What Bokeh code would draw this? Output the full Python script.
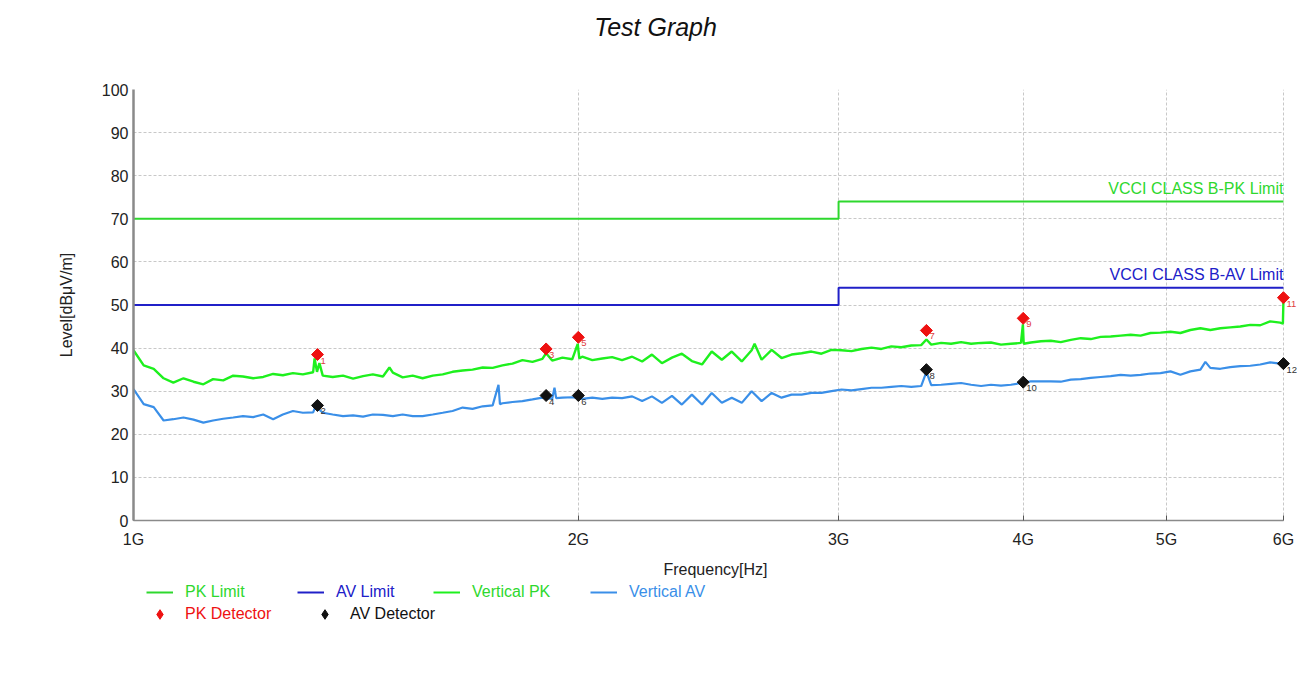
import numpy as np
from bokeh.plotting import figure
from bokeh.layouts import column
from bokeh.models import (FixedTicker, Label, Legend, LegendItem, ColumnDataSource, Range1d)
from bokeh.embed import file_html
from bokeh.resources import INLINE
from bokeh.core.properties import value

FONT = "Liberation Sans"

# ---------------- data ----------------
pk_freq = [1000, 1016, 1032, 1048, 1064, 1081, 1098, 1115, 1132, 1150, 1168, 1186, 1205, 1224, 1243, 1262,
           1282, 1302, 1323, 1326, 1331, 1336, 1343, 1364, 1386, 1408, 1430, 1452, 1475, 1490, 1498, 1521,
           1545, 1569, 1594, 1619, 1644, 1670, 1696, 1723, 1750, 1777, 1805, 1833, 1862, 1891, 1902, 1920,
           1951, 1981, 1998, 2003, 2012, 2044, 2076, 2108, 2141, 2175, 2209, 2243, 2278, 2314, 2350, 2387,
           2425, 2462, 2501, 2540, 2580, 2620, 2632, 2661, 2703, 2745, 2788, 2832, 2876, 2921, 2967, 3014,
           3061, 3109, 3158, 3207, 3257, 3308, 3360, 3412, 3440, 3466, 3520, 3575, 3631, 3688, 3746, 3804,
           3864, 3924, 3986, 3998, 4003, 4048, 4112, 4176, 4241, 4308, 4375, 4444, 4513, 4584, 4656, 4729,
           4803, 4878, 4954, 5032, 5110, 5190, 5272, 5354, 5438, 5523, 5610, 5698, 5787, 5877, 5969, 5995,
           6000]
pk_level = [39.5, 36.0, 35.2, 33.0, 32.0, 33.0, 32.2, 31.6, 32.8, 32.5, 33.6, 33.4, 33.0, 33.3, 34.0, 33.7,
            34.2, 33.9, 34.4, 37.6, 34.5, 36.5, 33.6, 33.3, 33.6, 32.9, 33.5, 33.9, 33.4, 35.5, 34.3, 33.2,
            33.6, 33.0, 33.6, 33.9, 34.5, 34.8, 35.0, 35.5, 35.4, 36.0, 36.4, 37.2, 36.8, 37.5, 38.8, 37.1,
            37.8, 37.4, 41.0, 37.6, 38.0, 37.2, 37.6, 37.9, 37.2, 38.0, 36.9, 38.5, 36.5, 37.8, 38.7, 37.0,
            36.2, 39.2, 37.3, 39.2, 36.9, 39.5, 41.0, 37.3, 39.6, 37.7, 38.5, 38.8, 39.2, 38.7, 39.6, 39.5,
            39.3, 39.8, 40.1, 39.8, 40.4, 40.2, 40.6, 40.7, 42.0, 40.8, 41.2, 41.0, 41.4, 41.0, 41.2, 41.3,
            40.8, 41.0, 41.2, 45.5, 41.0, 41.3, 41.6, 41.7, 41.4, 41.9, 42.3, 42.1, 42.6, 42.7, 42.9, 43.1,
            42.9, 43.5, 43.6, 43.8, 43.5, 44.2, 44.6, 44.2, 44.6, 44.8, 45.0, 45.4, 45.3, 46.2, 45.9, 45.7,
            51.0]

av_freq = [1000, 1016, 1032, 1048, 1064, 1081, 1098, 1115, 1132, 1150, 1168, 1186, 1205, 1224, 1243, 1262,
           1282, 1302, 1323, 1328, 1343, 1364, 1386, 1408, 1430, 1452, 1475, 1498, 1521, 1545, 1569, 1594,
           1619, 1644, 1670, 1696, 1723, 1750, 1766, 1770, 1777, 1805, 1833, 1862, 1891, 1920, 1927, 1932,
           1951, 1981, 2012, 2044, 2076, 2108, 2141, 2175, 2209, 2243, 2278, 2314, 2350, 2387, 2425, 2462,
           2501, 2540, 2580, 2620, 2661, 2703, 2745, 2788, 2832, 2876, 2921, 2967, 3014, 3061, 3109, 3158,
           3207, 3257, 3308, 3360, 3412, 3440, 3466, 3520, 3575, 3631, 3688, 3746, 3804, 3864, 3924, 3986,
           4048, 4112, 4176, 4241, 4308, 4375, 4444, 4513, 4584, 4656, 4729, 4803, 4878, 4954, 5032, 5110,
           5190, 5272, 5313, 5354, 5438, 5523, 5610, 5698, 5787, 5877, 5969, 6000]
av_level = [30.5, 27.0, 26.3, 23.2, 23.5, 23.9, 23.4, 22.7, 23.2, 23.6, 23.9, 24.2, 24.0, 24.6, 23.5, 24.6,
            25.4, 25.0, 25.1, 26.5, 25.0, 24.6, 24.2, 24.4, 24.1, 24.6, 24.5, 24.2, 24.6, 24.2, 24.2, 24.6,
            25.0, 25.4, 26.2, 25.9, 26.5, 26.7, 31.5, 27.0, 27.2, 27.5, 27.7, 28.1, 28.5, 28.2, 30.8, 28.4,
            28.5, 28.6, 28.2, 28.5, 28.2, 28.5, 28.4, 28.8, 27.7, 28.8, 27.3, 28.9, 26.9, 29.2, 26.9, 29.6,
            27.3, 28.5, 27.3, 30.0, 27.7, 29.6, 28.5, 29.2, 29.2, 29.6, 29.6, 30.0, 30.4, 30.2, 30.5, 30.8,
            30.8, 31.0, 31.2, 31.0, 31.2, 34.5, 31.4, 31.5, 31.7, 31.9, 31.5, 31.2, 31.5, 31.3, 31.5, 31.9,
            32.3, 32.3, 32.3, 32.2, 32.7, 32.8, 33.1, 33.3, 33.5, 33.8, 33.6, 33.8, 34.1, 34.2, 34.6, 33.8,
            34.6, 35.0, 36.8, 35.4, 35.2, 35.6, 35.8, 35.9, 36.2, 36.7, 36.4, 36.4]

limit_freq = [1000, 3000, 3000, 6000]
pk_limit = [70, 70, 74, 74]
av_limit = [50, 50, 54, 54]

pk_det_freq = [1332, 1902, 2000, 3440, 4000, 6000]
pk_det_level = [38.5, 39.8, 42.5, 44.1, 46.9, 51.7]
pk_det_no = ["1", "3", "5", "7", "9", "11"]
av_det_freq = [1332, 1902, 2000, 3440, 4000, 6000]
av_det_level = [26.7, 29.0, 29.0, 35.0, 32.1, 36.4]
av_det_no = ["2", "4", "6", "8", "10", "12"]

x_ticks = [1000, 2000, 3000, 4000, 5000, 6000]
x_tick_labels = ["1G", "2G", "3G", "4G", "5G", "6G"]
y_ticks = [0, 10, 20, 30, 40, 50, 60, 70, 80, 90, 100]

legend_labels = ["PK Limit", "AV Limit", "Vertical PK", "Vertical AV", "PK Detector", "AV Detector"]
title_text = "Test Graph"

# ---------------- colours ----------------
C_PKLIM = "#2ed82e"
C_PK = "#1ef01e"
C_AVLIM = "#2020c8"
C_AV = "#3a8fe8"
C_RED = "#ee1111"
C_BLK = "#111111"

W = 1297
LEFT = 133


def strip(height):
    f = figure(width=W, height=height, x_range=Range1d(0, 1), y_range=Range1d(0, 1),
               output_backend="svg", toolbar_location=None, title=None,
               x_axis_location=None, y_axis_location=None,
               min_border_left=LEFT, min_border_right=0, min_border_top=0, min_border_bottom=0)
    f.grid.visible = False
    f.outline_line_color = None
    f.background_fill_color = "white"
    f.border_fill_color = "white"
    return f


# ---------------- title strip ----------------
t = strip(79)
t.add_layout(Label(x=0.4485, y=0.66, text=title_text, text_align="center", text_baseline="middle",
                   text_font=FONT, text_font_size="25px", text_font_style="italic",
                   text_color="#111111"))

# ---------------- main chart ----------------
p = figure(width=W, height=501, x_axis_type="log", title=None,
           x_range=Range1d(1000, 6133), y_range=Range1d(0, 100),
           output_backend="svg", toolbar_location=None,
           min_border_left=LEFT, min_border_right=0, min_border_top=10, min_border_bottom=60)
p.outline_line_color = None
p.background_fill_color = "white"
p.border_fill_color = "white"

xa = p.xaxis[0]
xa.ticker = FixedTicker(ticks=x_ticks)
xa.major_label_overrides = {tk: lb for tk, lb in zip(x_ticks, x_tick_labels)}
xa.bounds = (1000, 6000)
xa.axis_line_color = "#8a8a8a"
xa.axis_line_width = 1.5
xa.major_tick_in = 5
xa.major_tick_out = 0
xa.major_tick_line_color = "#555555"
xa.minor_tick_line_color = None
xa.major_label_standoff = 10
xa.major_label_text_font = FONT
xa.major_label_text_font_size = "16px"
xa.major_label_text_color = "#222222"
xa.axis_label = "Frequency[Hz]"
xa.axis_label_text_font = FONT
xa.axis_label_text_font_size = "16px"
xa.axis_label_text_font_style = "normal"
xa.axis_label_text_color = "#222222"
xa.axis_label_standoff = 10

ya = p.yaxis[0]
ya.ticker = FixedTicker(ticks=y_ticks)
ya.axis_line_color = "#8a8a8a"
ya.axis_line_width = 2.5
ya.major_tick_in = 0
ya.major_tick_out = 0
ya.minor_tick_line_color = None
ya.major_label_standoff = 5
ya.major_label_text_font = FONT
ya.major_label_text_font_size = "16px"
ya.major_label_text_color = "#222222"
ya.axis_label = "Level[dBμV/m]"
ya.axis_label_text_font = FONT
ya.axis_label_text_font_size = "16px"
ya.axis_label_text_font_style = "normal"
ya.axis_label_text_color = "#222222"
ya.axis_label_standoff = 24

for g in (p.xgrid[0], p.ygrid[0]):
    g.grid_line_color = "#c8c8c8"
    g.grid_line_dash = "3 2"
    g.grid_line_width = 1
p.xgrid[0].ticker = FixedTicker(ticks=x_ticks)
p.ygrid[0].ticker = FixedTicker(ticks=y_ticks)
if "cross_bounds" in p.ygrid[0].properties():
    p.ygrid[0].cross_bounds = (1000, 6000)

p.line(limit_freq, pk_limit, line_color=C_PKLIM, line_width=2)
p.line(limit_freq, av_limit, line_color=C_AVLIM, line_width=2)
p.line(pk_freq, pk_level, line_color=C_PK, line_width=2.4)
p.line(av_freq, av_level, line_color=C_AV, line_width=2.2)

src_pk = ColumnDataSource(dict(x=pk_det_freq, y=pk_det_level, t=pk_det_no))
src_av = ColumnDataSource(dict(x=av_det_freq, y=av_det_level, t=av_det_no))
p.scatter("x", "y", source=src_pk, marker="square", angle=np.pi / 4, size=8.5,
          fill_color=C_RED, line_color=C_RED)
p.scatter("x", "y", source=src_av, marker="square", angle=np.pi / 4, size=8.5,
          fill_color=C_BLK, line_color=C_BLK)
p.text("x", "y", text="t", source=src_pk, x_offset=3, y_offset=6, text_font=value(FONT),
       text_font_size="9.5px", text_color="#e04040", text_baseline="middle", text_align="left")
p.text("x", "y", text="t", source=src_av, x_offset=3, y_offset=6, text_font=value(FONT),
       text_font_size="9.5px", text_color="#333333", text_baseline="middle", text_align="left")

p.add_layout(Label(x=6000, y=74, text="VCCI CLASS B-PK Limit", text_align="right", text_baseline="bottom",
                   y_offset=5, text_font=FONT, text_font_size="16px", text_color=C_PKLIM))
p.add_layout(Label(x=6000, y=54, text="VCCI CLASS B-AV Limit", text_align="right", text_baseline="bottom",
                   y_offset=5, text_font=FONT, text_font_size="16px", text_color=C_AVLIM))

# ---------------- legend strip ----------------
q = strip(93)
# legend carriers: same series, lying outside this strip's (0..1) ranges, so only their legend glyphs show
g_pklim = q.line(limit_freq, pk_limit, line_color=C_PKLIM, line_width=2)
g_avlim = q.line(limit_freq, av_limit, line_color=C_AVLIM, line_width=2)
g_pk = q.line(pk_freq, pk_level, line_color=C_PK, line_width=2)
g_av = q.line(av_freq, av_level, line_color=C_AV, line_width=2)
g_pkdet = q.scatter(pk_det_freq, pk_det_level, marker="diamond", fill_color=C_RED, line_color=C_RED)
g_avdet = q.scatter(av_det_freq, av_det_level, marker="diamond", fill_color=C_BLK, line_color=C_BLK)


def add_legend(label, rend, color, x, y, gh=16):
    lg = Legend(items=[LegendItem(label=label, renderers=[rend])], location=(x, y),
                orientation="horizontal", border_line_color=None, background_fill_alpha=0,
                padding=0, margin=0, spacing=0, glyph_width=27, glyph_height=gh,
                label_standoff=12, label_height=16, label_text_font=FONT,
                label_text_font_size="16px", label_text_color=color)
    q.add_layout(lg, "center")


add_legend(legend_labels[0], g_pklim, C_PKLIM, 13, 72)
add_legend(legend_labels[1], g_avlim, C_AVLIM, 164, 72)
add_legend(legend_labels[2], g_pk, C_PKLIM, 300, 72)
add_legend(legend_labels[3], g_av, C_AV, 457, 72)
add_legend(legend_labels[4], g_pkdet, C_RED, 13, 47, gh=24)
add_legend(legend_labels[5], g_avdet, C_BLK, 178, 47, gh=24)

layout = column(t, p, q, spacing=0)
open("out.html", "w").write(file_html(layout, INLINE))
